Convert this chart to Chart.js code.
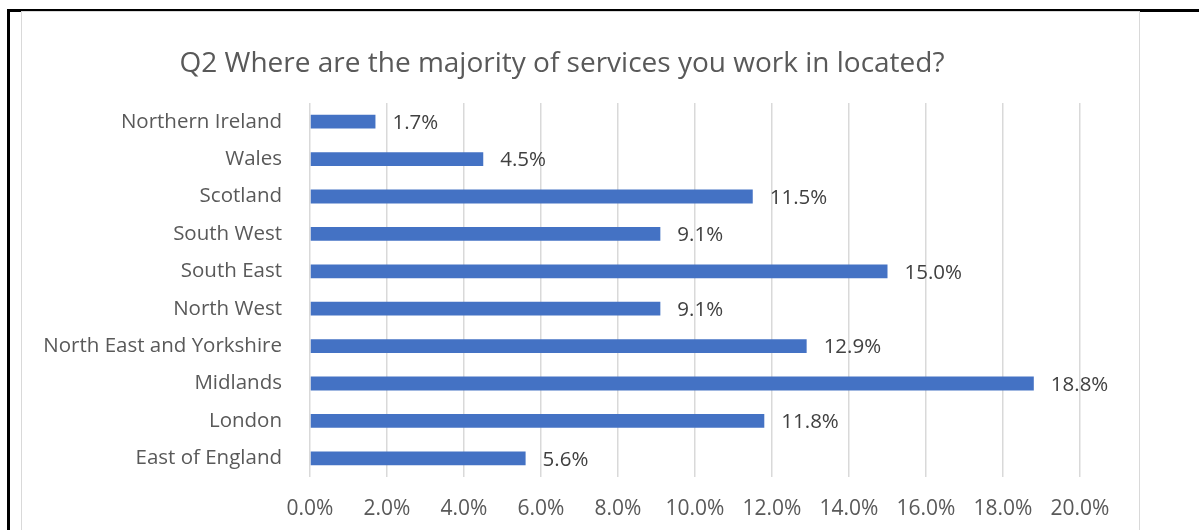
<!DOCTYPE html>
<html>
<head>
<meta charset="utf-8">
<title>Q2 Where are the majority of services you work in located?</title>
<script src="https://cdn.jsdelivr.net/npm/chart.js@4"></script>
<style>
  body { margin: 0; background: #fff; }
  #page { position: relative; width: 1199px; height: 530px; overflow: hidden; }
  #topLine { position: absolute; left: 7px; top: 9px; width: 1192px; height: 3px; background: #000; }
  #leftLine { position: absolute; left: 7px; top: 9px; width: 3px; height: 530px; background: #000; }
  #frame { position: absolute; left: 21px; top: 11px; width: 1117px; height: 530px;
           border: 1.5px solid #d9d9d9; border-bottom: none; }
  #chart { position: absolute; left: 22px; top: 12px; }
</style>
</head>
<body>
<div id="page">
  <div id="topLine"></div>
  <div id="leftLine"></div>
  <div id="frame"></div>
  <canvas id="chart" width="1116" height="518"></canvas>
</div>
<script>
const chartTitle = "Q2 Where are the majority of services you work in located?";
const regions = [
  "Northern Ireland",
  "Wales",
  "Scotland",
  "South West",
  "South East",
  "North West",
  "North East and Yorkshire",
  "Midlands",
  "London",
  "East of England"
];
const percentages = [1.7, 4.5, 11.5, 9.1, 15.0, 9.1, 12.9, 18.8, 11.8, 5.6];
const axisMin = 0;
const axisMax = 20;
const axisStep = 2;

const FONT = "'Open Sans', sans-serif";

// value labels to the right of each bar
const barLabels = {
  id: "barLabels",
  afterDatasetsDraw(chart) {
    const ctx = chart.ctx;
    const meta = chart.getDatasetMeta(0);
    ctx.save();
    ctx.font = "20.5px " + FONT;
    ctx.fillStyle = "#404040";
    ctx.textAlign = "left";
    ctx.textBaseline = "middle";
    meta.data.forEach((bar, i) => {
      ctx.fillText(percentages[i].toFixed(1) + "%", bar.x + 17, bar.y + 1.5);
    });
    ctx.restore();
  }
};

const ctx = document.getElementById("chart").getContext("2d");
new Chart(ctx, {
  type: "bar",
  data: {
    labels: regions,
    datasets: [{
      data: percentages,
      backgroundColor: "#4472c4",
      borderWidth: 0,
      barPercentage: 0.37,
      categoryPercentage: 1
    }]
  },
  plugins: [barLabels],
  options: {
    indexAxis: "y",
    responsive: false,
    animation: false,
    layout: { padding: { left: 22, right: 58, top: 0, bottom: 0 } },
    plugins: {
      legend: { display: false },
      tooltip: { enabled: false },
      title: {
        display: true,
        text: chartTitle,
        color: "#595959",
        font: { family: FONT, size: 28, weight: "normal", lineHeight: 1.2 },
        padding: { top: 35, bottom: 22.4 }
      }
    },
    scales: {
      x: {
        min: axisMin,
        max: axisMax,
        afterFit: (scale) => { scale.height = 53; },
        border: { display: false },
        grid: { color: "#d9d9d9", lineWidth: 1.5, drawTicks: false },
        ticks: {
          stepSize: axisStep,
          padding: 19.5,
          color: "#595959",
          font: { family: FONT, size: 21 },
          callback: (v) => Number(v).toFixed(1) + "%"
        }
      },
      y: {
        afterFit: (scale) => { scale.width = 266; },
        border: { display: false },
        grid: { display: false, drawTicks: false },
        ticks: {
          padding: 28,
          color: "#595959",
          font: { family: FONT, size: 20.5 }
        }
      }
    }
  }
});
</script>
</body>
</html>
